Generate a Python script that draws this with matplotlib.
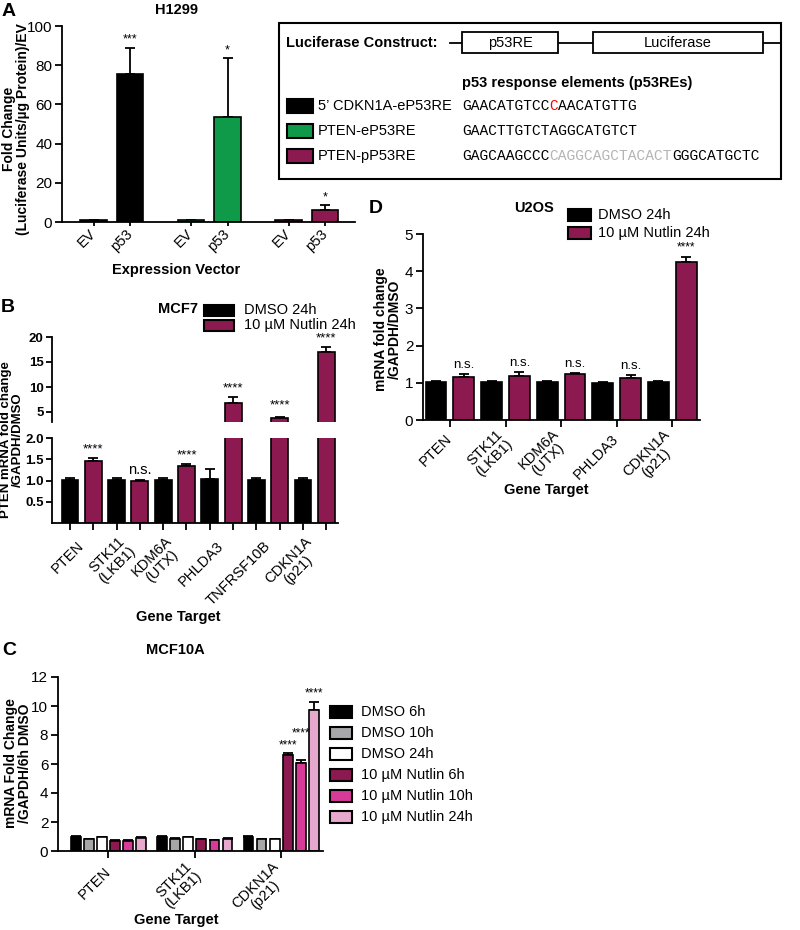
import matplotlib
matplotlib.use("Agg")
import matplotlib.pyplot as plt
from matplotlib.patches import Rectangle
import numpy as np

W, H = 800, 930
plt.rcParams['font.family'] = ['Liberation Sans', 'DejaVu Sans']
plt.rcParams['axes.linewidth'] = 1.3
plt.rcParams['xtick.major.width'] = 1.3
plt.rcParams['ytick.major.width'] = 1.3
plt.rcParams['xtick.minor.width'] = 1.3

PURPLE = '#8c1950'
GREEN = '#0f9a4a'

# ---- A: H1299 luciferase reporter
a_constructs = ['5\u2019 CDKN1A-eP53RE', 'PTEN-eP53RE', 'PTEN-pP53RE']
a_colors = ['black', GREEN, PURPLE]
a_vectors = ['EV', 'p53']
a_ev = [1.0, 1.0, 1.0]
a_ev_err = [0.2, 0.2, 0.2]
a_p53 = [75.5, 53.5, 6.1]
a_p53_err = [13.5, 30.0, 2.6]
a_stars = ['***', '*', '*']
a_seqs = [
    [('GAACATGTCC', 'black'), ('C', 'red'), ('AACATGTTG', 'black')],
    [('GAACTTGTCTAGGCATGTCT', 'black')],
    [('GAGCAAGCCC', 'black'), ('CAGGCAGCTACACT', '#b4b4b4'), ('GGGCATGCTC', 'black')],
]

# ---- B: MCF7
b_genes = ['PTEN', 'STK11\n(LKB1)', 'KDM6A\n(UTX)', 'PHLDA3', 'TNFRSF10B', 'CDKN1A\n(p21)']
b_series = ['DMSO 24h', '10 \u00b5M Nutlin 24h']
b_dmso = [1.02, 1.02, 1.02, 1.03, 1.02, 1.02]
b_dmso_err = [0.05, 0.05, 0.05, 0.24, 0.05, 0.05]
b_nutlin = [1.45, 0.98, 1.35, 6.8, 3.8, 16.9]
b_nutlin_err = [0.08, 0.03, 0.03, 1.2, 0.1, 1.0]
b_stars = ['****', 'n.s.', '****', '****', '****', '****']

# ---- C: MCF10A
c_genes = ['PTEN', 'STK11\n(LKB1)', 'CDKN1A\n(p21)']
c_series = ['DMSO 6h', 'DMSO 10h', 'DMSO 24h',
            '10 \u00b5M Nutlin 6h', '10 \u00b5M Nutlin 10h', '10 \u00b5M Nutlin 24h']
c_colors = ['black', '#a7a7a9', 'white', PURPLE, '#d83a98', '#e6a8cc']
c_values = [[1.0, 1.0, 1.0],
            [0.8, 0.85, 0.8],
            [0.95, 0.95, 0.8],
            [0.7, 0.8, 6.6],
            [0.7, 0.75, 6.1],
            [0.9, 0.85, 9.7]]
c_err = [[0.05, 0.04, 0.05],
         [0.03, 0.03, 0.03],
         [0.05, 0.04, 0.03],
         [0.03, 0.03, 0.15],
         [0.04, 0.03, 0.2],
         [0.04, 0.03, 0.6]]

# ---- D: U2OS
d_genes = ['PTEN', 'STK11\n(LKB1)', 'KDM6A\n(UTX)', 'PHLDA3', 'CDKN1A\n(p21)']
d_dmso = [1.02, 1.03, 1.02, 1.0, 1.02]
d_dmso_err = [0.03, 0.03, 0.02, 0.01, 0.02]
d_nutlin = [1.15, 1.18, 1.25, 1.14, 4.26]
d_nutlin_err = [0.1, 0.12, 0.02, 0.06, 0.13]
d_stars = ['n.s.', 'n.s.', 'n.s.', 'n.s.', '****']

fig = plt.figure(figsize=(W / 100, H / 100), dpi=100)


def axes_px(x0, y0, x1, y1):
    return fig.add_axes([x0 / W, 1 - y1 / H, (x1 - x0) / W, (y1 - y0) / H])


def style(ax, bold=False, size=11, length=5):
    ax.patch.set_visible(False)
    ax.spines['top'].set_visible(False)
    ax.spines['right'].set_visible(False)
    ax.tick_params(direction='out', length=length, labelsize=size, pad=2)
    if bold:
        for t in ax.get_yticklabels():
            t.set_fontweight('bold')


def bars(ax, x, vals, errs, colors, width):
    ax.errorbar(x, vals, yerr=[np.zeros(len(vals)), errs], fmt='none', ecolor='black',
                elinewidth=1.3, capsize=3.5, capthick=1.3, zorder=1)
    ax.bar(x, vals, width, color=colors, edgecolor='black', linewidth=1.2, zorder=2)


def stars(ax, x, tops, labels, pad, fs=9.5):
    pads = np.broadcast_to(pad, len(labels))
    for xi, t, s, p in zip(x, tops, labels, pads):
        size = fs + 1 if s == 'n.s.' else fs
        ax.text(xi, t + p, s, ha='center', va='bottom', fontsize=size)


def rot_labels(ax, pos, labels, pad):
    ax.set_xticks(pos)
    ax.set_xticklabels(labels, rotation=45, ha='right', va='center', linespacing=1.0,
                       rotation_mode='anchor', multialignment='center', fontsize=10.5)
    ax.tick_params(axis='x', which='major', pad=pad)


# ================= Panel A =================
axA = axes_px(62, 26, 355, 222)
g = np.arange(3) * 3.0
x_ev, x_p = g - 0.56, g + 0.56
bars(axA, x_ev, a_ev, a_ev_err, a_colors, 0.82)
bars(axA, x_p, a_p53, a_p53_err, a_colors, 0.82)
stars(axA, x_p, np.add(a_p53, a_p53_err), a_stars, 1.0, fs=9)
axA.set_xlim(-1.53, 7.48)
axA.set_ylim(0, 100)
axA.set_yticks([0, 20, 40, 60, 80, 100])
style(axA, size=11)
rot_labels(axA, np.sort(np.r_[x_ev, x_p]), a_vectors * 3, 4)
axA.tick_params(axis='x', length=3)

# ================= Panel B =================
axBt = axes_px(52, 337, 338, 422)
axBb = axes_px(52, 438, 338, 523)
xb = np.arange(6) * 2.0
for ax in (axBt, axBb):
    bars(ax, xb, b_dmso, b_dmso_err, 'black', 0.72)
    bars(ax, xb + 1, b_nutlin, b_nutlin_err, PURPLE, 0.72)
    ax.set_xlim(-0.77, 11.5)
axBt.set_ylim(3, 20)
axBt.set_yticks([5, 10, 15, 20])
axBt.spines['bottom'].set_visible(False)
axBt.set_xticks([])
axBb.set_ylim(0, 2)
axBb.set_yticks([0.5, 1.0, 1.5, 2.0])
axBb.set_yticklabels(['0.5', '1.0', '1.5', '2.0'])
style(axBt, bold=True, size=9.5, length=4)
style(axBb, bold=True, size=9.5, length=4)
axBt.tick_params(axis='x', length=0)
rot_labels(axBb, xb + 0.5, b_genes, 15)
axBb.tick_params(axis='x', which='major', length=0)
axBb.set_xticks(np.r_[xb, xb + 1], minor=True)
axBb.tick_params(axis='x', which='minor', length=5, direction='out')
tops = np.add(b_nutlin, b_nutlin_err)
low = tops < 2.5
stars(axBb, (xb + 1)[low], tops[low], np.array(b_stars)[low], 0.07)
stars(axBt, (xb + 1)[~low], tops[~low], np.array(b_stars)[~low], [0.6, 1.2, 0.6])

# ================= Panel C =================
axC = axes_px(58, 677, 323, 851)
gc = np.arange(3) * 6.6
for k in range(6):
    bars(axC, gc + k, c_values[k], c_err[k], c_colors[k], 0.75)
stars(axC, gc[2] + np.arange(3, 6), [c_values[k][2] + c_err[k][2] for k in range(3, 6)],
      ['****'] * 3, [0.15, 1.4, 0.15], fs=8.5)
axC.set_xlim(-1.36, gc[2] + 5.7)
axC.set_ylim(0, 12)
axC.set_yticks(np.arange(0, 13, 2))
style(axC)
rot_labels(axC, gc + 2.5, c_genes, 8)

# ================= Panel D =================
axD = axes_px(423, 234, 700, 420)
xd = np.arange(5) * 2.0
bars(axD, xd, d_dmso, d_dmso_err, 'black', 0.75)
bars(axD, xd + 1, d_nutlin, d_nutlin_err, PURPLE, 0.75)
stars(axD, xd + 1, np.add(d_nutlin, d_nutlin_err), d_stars, 0.08, fs=8.5)
axD.set_xlim(-0.47, 9.5)
axD.set_ylim(0, 5)
axD.set_yticks(range(6))
style(axD)
rot_labels(axD, xd + 0.5, d_genes, 7)

# full-figure canvas in pixel units for labels, legends and the construct box
canvas = axes_px(0, 0, W, H)
canvas.set_xlim(0, W)
canvas.set_ylim(H, 0)
canvas.axis('off')
canvas.set_zorder(10)


def legend_px(x, y0, dy, sw_w, sw_h, colors, labels, tx, fs=10.5):
    for i, (c, lab) in enumerate(zip(colors, labels)):
        y = y0 + i * dy
        canvas.add_patch(Rectangle((x, y - sw_h / 2), sw_w, sw_h, fc=c, ec='black', lw=1.5))
        canvas.text(tx, y, lab, ha='left', va='center', fontsize=fs)


def label(x, y, s, size=10.5, bold=True, rot=0):
    canvas.text(x, y, s, fontsize=size, fontweight='bold' if bold else 'normal',
                ha='center', va='center', rotation=rot, linespacing=1.05)


# A labels and construct box
label(9, 12, 'A', 14)
label(177, 10, 'H1299')
label(16, 129, 'Fold Change\n(Luciferase Units/\u00b5g Protein)/EV', 10, rot=90)
label(176, 270, 'Expression Vector')

canvas.add_patch(Rectangle((279, 23), 502, 156, fill=False, ec='black', lw=1.5))
canvas.text(286, 43, 'Luciferase Construct:', fontsize=10.5, fontweight='bold',
            ha='left', va='center')
canvas.plot([450, 781], [43, 43], color='black', lw=1.3, zorder=1)
for bx0, bx1, lab in [(462, 558, 'p53RE'), (593, 763, 'Luciferase')]:
    canvas.add_patch(Rectangle((bx0, 32), bx1 - bx0, 21, fc='white', ec='black', lw=1.3, zorder=2))
    canvas.text((bx0 + bx1) / 2, 43, lab, fontsize=10.5, ha='center', va='center', zorder=3)
canvas.text(462, 83, 'p53 response elements (p53REs)', fontsize=10.5, fontweight='bold',
            ha='left', va='center')
for i, (name, col, parts) in enumerate(zip(a_constructs, a_colors, a_seqs)):
    y = 106 + i * 25
    canvas.add_patch(Rectangle((287, y - 7), 26, 14, fc=col, ec='black', lw=1.5))
    canvas.text(318, y, name, fontsize=10.5, ha='left', va='center')
    t = canvas.text(462, y, parts[0][0], color=parts[0][1], fontsize=10.5,
                    family='Liberation Mono', ha='left', va='center')
    for s, c in parts[1:]:
        t = canvas.annotate(s, xy=(1, 0), xycoords=t, color=c, fontsize=10.5,
                            family='Liberation Mono', ha='left', va='bottom')

# B labels
label(8, 307, 'B', 14)
label(178, 309, 'MCF7')
legend_px(204, 310, 15, 30, 11, ['black', PURPLE], b_series, 244)
label(12, 440, 'PTEN mRNA fold change\n/GAPDH/DMSO', 9.5, rot=90)
label(178, 617, 'Gene Target')

# C labels
label(9, 650, 'C', 14)
label(175, 650, 'MCF10A')
legend_px(330, 712, 21, 22, 12, c_colors, c_series, 361)
label(18, 763, 'mRNA Fold Change\n/GAPDH/6h DMSO', 10, rot=90)
label(176, 920, 'Gene Target')

# D labels
label(376, 208, 'D', 14)
label(534, 208, 'U2OS')
legend_px(568, 215, 18, 23, 12, ['black', PURPLE], b_series, 598)
label(388, 329, 'mRNA fold change\n/GAPDH/DMSO', 10, rot=90)
label(546, 490, 'Gene Target')

fig.savefig('out.png', dpi=100)
